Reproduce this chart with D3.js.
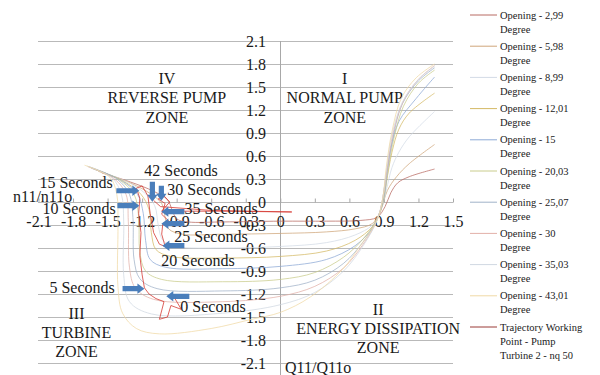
<!DOCTYPE html>
<html>
<head>
<meta charset="utf-8">
<script src="https://cdn.jsdelivr.net/npm/d3@7"></script>
<style>
  body { margin: 0; background: #fff; }
  text { font-family: "Liberation Serif", "Times New Roman", serif; fill: #1a1a1a; }
</style>
</head>
<body>
<svg id="svg1" width="600" height="375"></svg>
<script>
// axis ticks
var xTicks = [-2.1, -1.8, -1.5, -1.2, -0.9, -0.6, -0.3, 0, 0.3, 0.6, 0.9, 1.2, 1.5];
var yTicks = [-2.1, -1.8, -1.5, -1.2, -0.9, -0.6, -0.3, 0, 0.3, 0.6, 0.9, 1.2, 1.5, 1.8, 2.1];

// guide vane openings (legend names)
var openings = ["2,99", "5,98", "8,99", "12,01", "15", "20,03", "25,07", "30", "35,03", "43,01"];

// characteristic curves, [Q11/Q11o, n11/n11o]
var op299 = [[-1.55,0.38],[-1.3,0.26],[-1.1,0.14],[-0.98,0.03],[-0.94,-0.1],[-0.9,-0.22],[-0.8,-0.26],[-0.5,-0.26],
  [0,-0.25],[0.4,-0.25],[0.7,-0.24],[0.84,-0.2],[0.91,-0.06],[0.96,0.12],[1.02,0.25],[1.12,0.33],[1.34,0.43]];
var op598 = [[-1.58,0.4],[-1.32,0.26],[-1.14,0.12],[-1.03,-0.02],[-1.0,-0.2],[-0.97,-0.35],[-0.85,-0.42],[-0.5,-0.42],
  [0,-0.41],[0.4,-0.39],[0.65,-0.35],[0.8,-0.28],[0.87,-0.12],[0.93,0.15],[1.01,0.33],[1.12,0.5],[1.34,0.75]];
var op899 = [[-1.6,0.42],[-1.34,0.27],[-1.18,0.12],[-1.09,-0.05],[-1.06,-0.3],[-1.02,-0.5],[-0.9,-0.58],[-0.5,-0.6],
  [0,-0.58],[0.4,-0.53],[0.65,-0.43],[0.8,-0.3],[0.87,-0.12],[0.92,0.15],[0.97,0.45],[1.03,0.65],[1.12,0.85],[1.34,1.18]];
var op1201 = [[-1.62,0.43],[-1.36,0.27],[-1.21,0.1],[-1.14,-0.1],[-1.12,-0.4],[-1.08,-0.62],[-0.95,-0.71],[-0.5,-0.73],
  [0,-0.71],[0.4,-0.64],[0.65,-0.5],[0.8,-0.32],[0.87,-0.12],[0.92,0.25],[0.97,0.65],[1.03,0.95],[1.12,1.16],[1.34,1.42]];
var op15 = [[-1.64,0.44],[-1.38,0.28],[-1.24,0.1],[-1.19,-0.15],[-1.17,-0.5],[-1.13,-0.75],[-1.0,-0.85],[-0.5,-0.87],
  [0,-0.84],[0.4,-0.75],[0.65,-0.57],[0.8,-0.34],[0.87,-0.1],[0.91,0.25],[0.96,0.7],[1.03,1.05],[1.18,1.35],[1.34,1.63]];
var op2003 = [[-1.65,0.45],[-1.4,0.29],[-1.27,0.1],[-1.23,-0.2],[-1.22,-0.65],[-1.17,-0.9],[-1.03,-1.01],[-0.5,-1.04],
  [0,-1.01],[0.3,-0.92],[0.55,-0.72],[0.72,-0.48],[0.84,-0.22],[0.9,0.05],[0.94,0.45],[0.99,0.85],[1.07,1.25],[1.2,1.55],[1.34,1.72]];
var op2507 = [[-1.66,0.46],[-1.42,0.3],[-1.31,0.1],[-1.28,-0.2],[-1.27,-0.75],[-1.22,-1.0],[-1.07,-1.13],[-0.5,-1.16],
  [0,-1.12],[0.3,-1.02],[0.55,-0.8],[0.72,-0.52],[0.84,-0.23],[0.9,0.05],[0.93,0.4],[0.98,0.85],[1.06,1.28],[1.2,1.58],[1.34,1.75]];
var op30 = [[-1.67,0.46],[-1.44,0.3],[-1.34,0.1],[-1.32,-0.25],[-1.31,-0.85],[-1.26,-1.12],[-1.1,-1.27],[-0.5,-1.3],
  [0,-1.23],[0.3,-1.1],[0.55,-0.86],[0.72,-0.55],[0.84,-0.24],[0.89,0.05],[0.93,0.45],[0.98,0.9],[1.07,1.32],[1.2,1.6],[1.34,1.78]];
var op3503 = [[-1.68,0.47],[-1.46,0.31],[-1.38,0.1],[-1.36,-0.25],[-1.36,-0.95],[-1.31,-1.3],[-1.12,-1.46],[-0.5,-1.45],
  [0,-1.34],[0.3,-1.18],[0.55,-0.9],[0.72,-0.57],[0.84,-0.24],[0.89,0.05],[0.92,0.4],[0.97,0.88],[1.06,1.3],[1.2,1.6],[1.34,1.77]];
var op4301 = [[-1.7,0.48],[-1.48,0.32],[-1.42,0.1],[-1.41,-0.3],[-1.41,-1.1],[-1.37,-1.45],[-1.25,-1.65],[-1.05,-1.72],[-0.6,-1.65],[-0.25,-1.53],
  [0,-1.44],[0.26,-1.24],[0.54,-0.88],[0.69,-0.58],[0.84,-0.24],[0.89,0.05],[0.92,0.45],[0.97,0.92],[1.05,1.35],[1.18,1.62],[1.34,1.8]];

// working point trajectory of pump turbine 2
var trajectory = [[-0.93,-1.22],[-0.86,-1.4],[-0.95,-1.35],[-0.98,-1.5],[-1.05,-1.53],[-1.01,-1.3],[-1.08,-1.26],[-1.14,-1.2],
  [-1.18,-1.12],[-1.2,-0.95],[-1.22,-0.7],[-1.21,-0.4],[-1.23,-0.15],[-1.22,0.05],[-1.25,0.18],[-1.2,0.21],[-1.15,0.08],
  [-1.13,-0.15],[-1.1,-0.4],[-1.05,-0.55],[-1.0,-0.58],[-1.03,-0.42],[-1.02,-0.28],[-0.96,-0.26],[-1.03,-0.16],[-1.0,-0.02],
  [-1.06,0.04],[-1.01,0.08],[-0.96,0.0],[-1.03,-0.12],[-0.5,-0.12],[0.1,-0.13],[-0.6,-0.11],[-1.04,-0.06],[-1.1,0.02]];

// time markers: label, arrow tail, arrow tip, label left/centre
var markLabels = ["0 Seconds", "5 Seconds", "10 Seconds", "15 Seconds", "20 Seconds", "25 Seconds", "30 Seconds", "35 Seconds", "42 Seconds"];
var markTails = [[-0.79,-1.23],[-1.37,-1.13],[-1.415,-0.048],[-1.424,0.147],[-0.833,-0.57],[-0.833,-0.283],[-1.033,0.212],[-0.833,-0.126],[-1.111,0.264]];
var markTips = [[-0.99,-1.23],[-1.18,-1.13],[-1.224,-0.048],[-1.224,0.147],[-1.024,-0.57],[-1.033,-0.283],[-1.033,0.017],[-1.033,-0.126],[-1.111,0.004]];
var markText = [[-0.868,-1.365],[-2.005,-1.117],[-2.066,-0.087],[-2.092,0.252],[-1.033,-0.765],[-0.92,-0.452],[-0.981,0.16],[-0.833,-0.087],[-1.181,0.408]];

// operating zones: lines and centre of middle line
var zoneLines = [["IV", "REVERSE PUMP", "ZONE"], ["I", "NORMAL PUMP", "ZONE"], ["III", "TURBINE", "ZONE"], ["II", "ENERGY DISSIPATION", "ZONE"]];
var zoneCentres = [[-0.985, 1.36], [0.56, 1.36], [-1.77, -1.70], [0.85, -1.65]];

var curves = [op299, op598, op899, op1201, op15, op2003, op2507, op30, op3503, op4301];
var colors = ["#b86a62", "#cfa67a", "#d3dbe6", "#d4b965", "#8eaad6", "#c9cc8c", "#a0b2c8", "#e2b0a8", "#d0d8e2", "#f0d9a6"];
var trajColor = "#d63a34";
var serif = "Liberation Serif";

var svg = d3.select("#svg1");
var x = d3.scaleLinear().domain([-2.1, 1.5]).range([38.5, 453]);
var y = d3.scaleLinear().domain([-2.1, 2.1]).range([363, 41]);

// grid
svg.append("g").selectAll("line").data(yTicks).enter().append("line")
  .attr("x1", 38).attr("x2", 453)
  .attr("y1", function(d) { return Math.round(y(d)) + 0.5; })
  .attr("y2", function(d) { return Math.round(y(d)) + 0.5; })
  .attr("stroke", "#b9b9b9");

// vertical axis line
svg.append("line")
  .attr("x1", Math.round(x(0)) + 0.5).attr("x2", Math.round(x(0)) + 0.5)
  .attr("y1", y(2.1)).attr("y2", 375)
  .attr("stroke", "#a8a8a8");

var fmt = function(d) { return d === 0 ? "0" : d.toFixed(1); };

// x axis labels along n11 = 0
var gx = svg.append("g")
  .attr("transform", "translate(0," + (Math.round(y(0)) + 0.5) + ")")
  .call(d3.axisBottom(x).tickValues(xTicks).tickFormat(fmt).tickSizeInner(-4).tickSizeOuter(0).tickPadding(13));
gx.select(".domain").remove();
gx.selectAll(".tick line").attr("stroke", "#a8a8a8");
gx.selectAll(".tick text").attr("font-size", 16).attr("font-family", serif).attr("fill", "#1a1a1a");

// y axis labels
var gy = svg.append("g")
  .attr("transform", "translate(269,0)")
  .call(d3.axisLeft(y).tickValues(yTicks).tickFormat(fmt).tickSize(0).tickPadding(3));
gy.select(".domain").remove();
gy.selectAll(".tick text").attr("font-size", 16).attr("font-family", serif).attr("fill", "#1a1a1a");

// axis titles
svg.append("text").attr("x", 13).attr("y", 196).attr("dy", "0.35em").attr("font-size", 16).attr("font-family", serif).text("n11/n11o");
svg.append("text").attr("x", 285).attr("y", 367).attr("dy", "0.35em").attr("font-size", 16).attr("font-family", serif).text("Q11/Q11o");

// zone labels
zoneLines.forEach(function(lines, i) {
  var t = svg.append("text").attr("text-anchor", "middle").attr("font-size", 16).attr("font-family", serif);
  lines.forEach(function(s, j) {
    t.append("tspan")
      .attr("x", x(zoneCentres[i][0]))
      .attr("y", y(zoneCentres[i][1]) + (j - 1) * 19.3)
      .attr("dy", "0.35em")
      .text(s);
  });
});

var line = d3.line()
  .x(function(d) { return x(d[0]); })
  .y(function(d) { return y(d[1]); })
  .curve(d3.curveCatmullRom.alpha(0.5));

svg.append("g").selectAll("path").data(curves).enter().append("path")
  .attr("fill", "none")
  .attr("stroke", function(d, i) { return colors[i]; })
  .attr("stroke-width", 0.75)
  .attr("d", line);

svg.append("path")
  .datum(trajectory)
  .attr("fill", "none")
  .attr("stroke", trajColor)
  .attr("stroke-width", 0.8)
  .attr("stroke-linejoin", "round")
  .attr("d", d3.line().x(function(d) { return x(d[0]); }).y(function(d) { return y(d[1]); }));

// time arrows
function arrow(a, b) {
  var x1 = x(a[0]), y1 = y(a[1]), x2 = x(b[0]), y2 = y(b[1]);
  var L = Math.hypot(x2 - x1, y2 - y1), ux = (x2 - x1) / L, uy = (y2 - y1) / L;
  var nx = -uy, ny = ux, sw = 2.6, hw = 5.2, hl = 7;
  var mx = x2 - ux * hl, my = y2 - uy * hl;
  var p = [[x1 + nx * sw, y1 + ny * sw], [mx + nx * sw, my + ny * sw], [mx + nx * hw, my + ny * hw], [x2, y2],
    [mx - nx * hw, my - ny * hw], [mx - nx * sw, my - ny * sw], [x1 - nx * sw, y1 - ny * sw]];
  return "M" + p.join("L") + "Z";
}
svg.append("g").selectAll("path").data(markLabels).enter().append("path")
  .attr("fill", "#4a7ebb")
  .attr("d", function(d, i) { return arrow(markTails[i], markTips[i]); });
svg.append("g").selectAll("text").data(markLabels).enter().append("text")
  .attr("x", function(d, i) { return x(markText[i][0]); })
  .attr("y", function(d, i) { return y(markText[i][1]); })
  .attr("dy", "0.35em")
  .attr("font-size", 16)
  .attr("font-family", serif)
  .text(function(d) { return d; });

// legend
var legNames = openings.map(function(o) { return ["Opening - " + o, "Degree"]; });
legNames.push(["Trajectory Working", "Point - Pump", "Turbine 2 - nq 50"]);
var legColors = colors.concat(["#9a3a36"]);
var leg = svg.append("g").selectAll("g").data(legNames).enter().append("g")
  .attr("transform", function(d, i) { return "translate(470," + (15 + i * 31.2) + ")"; });
leg.append("line").attr("x1", 0).attr("x2", 27).attr("stroke", function(d, i) { return legColors[i]; }).attr("stroke-width", 1);
leg.append("text")
  .attr("font-size", 10.5)
  .attr("font-family", serif)
  .attr("fill", "#333")
  .selectAll("tspan").data(function(d) { return d; }).enter().append("tspan")
  .attr("x", 30)
  .attr("y", function(d, j) { return j * 14; })
  .attr("dy", "0.35em")
  .text(function(d) { return d; });
</script>
</body>
</html>
